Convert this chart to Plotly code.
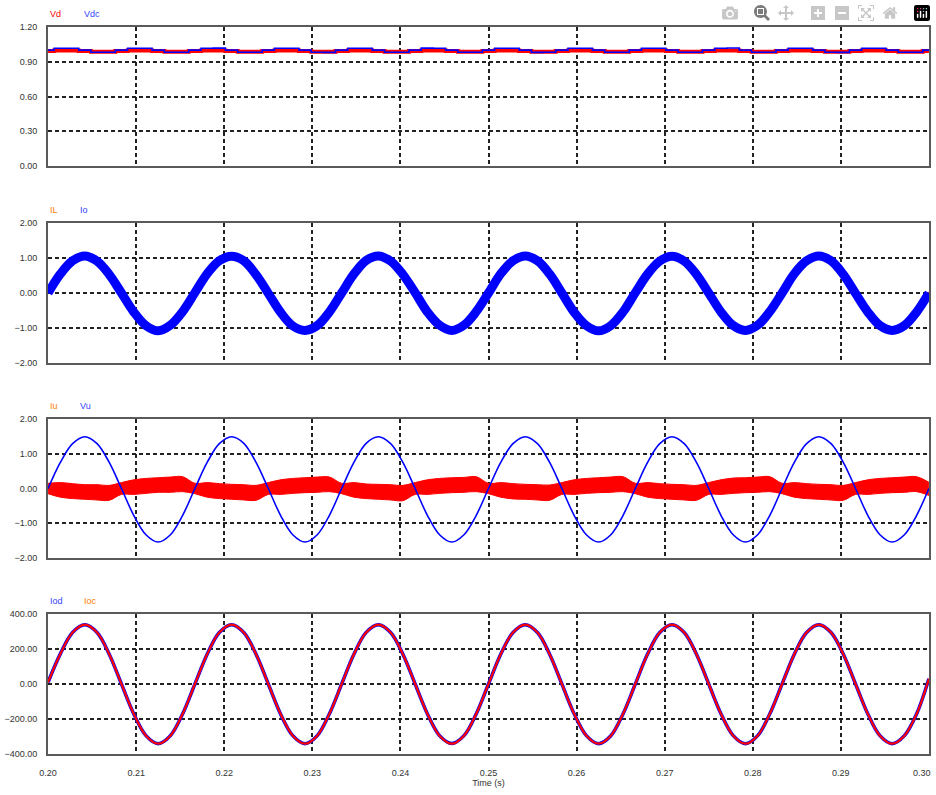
import plotly.graph_objects as go

# ---------------- data ----------------
time_s = [
    0.20000, 0.20139, 0.20278, 0.20417, 0.20556, 0.20694, 0.20833, 0.20972, 0.21111, 0.21250, 0.21389, 0.21528,
    0.21667, 0.21806, 0.21944, 0.22083, 0.22222, 0.22361, 0.22500, 0.22639, 0.22778, 0.22917, 0.23056, 0.23194,
    0.23333, 0.23472, 0.23611, 0.23750, 0.23889, 0.24028, 0.24167, 0.24306, 0.24444, 0.24583, 0.24722, 0.24861,
    0.25000, 0.25139, 0.25278, 0.25417, 0.25556, 0.25694, 0.25833, 0.25972, 0.26111, 0.26250, 0.26389, 0.26528,
    0.26667, 0.26806, 0.26944, 0.27083, 0.27222, 0.27361, 0.27500, 0.27639, 0.27778, 0.27917, 0.28056, 0.28194,
    0.28333, 0.28472, 0.28611, 0.28750, 0.28889, 0.29028, 0.29167, 0.29306, 0.29444, 0.29583, 0.29722, 0.29861,
    0.30000,
]

vd = [
    0.992, 0.997, 0.997, 0.992, 0.987, 0.987, 0.992, 0.997, 0.997, 0.992, 0.987, 0.987,
    0.992, 0.997, 0.998, 0.992, 0.987, 0.987, 0.992, 0.997, 0.997, 0.992, 0.987, 0.986,
    0.992, 0.997, 0.997, 0.992, 0.987, 0.987, 0.992, 0.998, 0.997, 0.992, 0.987, 0.987,
    0.992, 0.997, 0.997, 0.992, 0.986, 0.987, 0.992, 0.997, 0.997, 0.992, 0.987, 0.987,
    0.992, 0.997, 0.997, 0.992, 0.987, 0.987, 0.992, 0.997, 0.998, 0.992, 0.987, 0.987,
    0.992, 0.997, 0.997, 0.992, 0.987, 0.986, 0.992, 0.997, 0.997, 0.992, 0.987, 0.987,
    0.992,
]
vdc = [
    1.000, 1.017, 1.017, 1.000, 0.982, 0.982, 1.000, 1.017, 1.017, 1.000, 0.982, 0.982,
    1.000, 1.017, 1.018, 1.000, 0.982, 0.982, 1.000, 1.017, 1.017, 1.000, 0.982, 0.981,
    1.000, 1.017, 1.017, 1.000, 0.982, 0.982, 1.000, 1.018, 1.017, 1.000, 0.982, 0.982,
    1.000, 1.017, 1.017, 1.000, 0.981, 0.982, 1.000, 1.017, 1.017, 1.000, 0.982, 0.982,
    1.000, 1.017, 1.017, 1.000, 0.982, 0.982, 1.000, 1.017, 1.019, 1.000, 0.982, 0.982,
    1.000, 1.017, 1.017, 1.000, 0.982, 0.981, 1.000, 1.017, 1.017, 1.000, 0.982, 0.982,
    1.000,
]

io = [
    0.00, 0.54, 0.92, 1.06, 0.91, 0.53, 0.00, -0.54, -0.93, -1.08, -0.92, -0.53,
    0.01, 0.55, 0.92, 1.05, 0.92, 0.52, -0.01, -0.55, -0.94, -1.07, -0.93, -0.54,
    0.00, 0.54, 0.93, 1.06, 0.91, 0.53, 0.01, -0.54, -0.92, -1.07, -0.92, -0.53,
    0.00, 0.55, 0.92, 1.06, 0.92, 0.54, 0.00, -0.55, -0.93, -1.08, -0.93, -0.54,
    0.01, 0.54, 0.91, 1.05, 0.91, 0.53, 0.00, -0.54, -0.93, -1.07, -0.92, -0.53,
    0.00, 0.55, 0.92, 1.06, 0.92, 0.53, -0.01, -0.54, -0.93, -1.07, -0.93, -0.54,
    0.00,
]
il = [
    0.02, 0.52, 0.90, 1.03, 0.88, 0.49, -0.03, -0.56, -0.91, -1.04, -0.89, -0.50,
    0.03, 0.53, 0.90, 1.03, 0.89, 0.49, -0.03, -0.56, -0.92, -1.04, -0.90, -0.51,
    0.02, 0.52, 0.91, 1.03, 0.88, 0.50, -0.02, -0.56, -0.90, -1.04, -0.89, -0.50,
    0.02, 0.53, 0.90, 1.03, 0.89, 0.50, -0.03, -0.57, -0.91, -1.05, -0.90, -0.51,
    0.03, 0.52, 0.89, 1.02, 0.88, 0.50, -0.02, -0.56, -0.91, -1.04, -0.89, -0.50,
    0.02, 0.53, 0.90, 1.03, 0.89, 0.50, -0.03, -0.56, -0.91, -1.04, -0.90, -0.51,
    0.02,
]

vu = [
    0.00, 0.75, 1.29, 1.49, 1.29, 0.75, 0.00, -0.77, -1.33, -1.54, -1.33, -0.77,
    0.00, 0.75, 1.29, 1.49, 1.30, 0.75, 0.00, -0.77, -1.33, -1.54, -1.33, -0.77,
    0.00, 0.75, 1.30, 1.49, 1.29, 0.75, 0.00, -0.77, -1.33, -1.54, -1.33, -0.77,
    0.00, 0.75, 1.29, 1.49, 1.29, 0.75, 0.00, -0.77, -1.33, -1.54, -1.33, -0.77,
    0.00, 0.75, 1.29, 1.49, 1.29, 0.75, 0.00, -0.77, -1.33, -1.54, -1.33, -0.77,
    0.00, 0.75, 1.29, 1.49, 1.29, 0.75, 0.00, -0.77, -1.33, -1.54, -1.33, -0.77,
    0.00,
]
iu_hi = [
    0.15, 0.17, 0.14, 0.11, 0.11, 0.09, 0.17, 0.25, 0.29, 0.31, 0.33, 0.34,
    0.15, 0.17, 0.14, 0.12, 0.11, 0.09, 0.17, 0.25, 0.29, 0.31, 0.33, 0.33,
    0.15, 0.17, 0.13, 0.12, 0.11, 0.09, 0.17, 0.25, 0.29, 0.31, 0.32, 0.34,
    0.15, 0.17, 0.14, 0.12, 0.11, 0.10, 0.17, 0.25, 0.29, 0.31, 0.33, 0.34,
    0.15, 0.17, 0.14, 0.12, 0.11, 0.09, 0.17, 0.25, 0.30, 0.31, 0.33, 0.34,
    0.15, 0.17, 0.14, 0.12, 0.11, 0.09, 0.17, 0.25, 0.29, 0.31, 0.33, 0.34,
    0.18,
]
iu_lo = [
    -0.15, -0.25, -0.29, -0.31, -0.33, -0.34, -0.17, -0.17, -0.14, -0.11, -0.11, -0.09,
    -0.15, -0.25, -0.29, -0.31, -0.33, -0.34, -0.17, -0.17, -0.14, -0.12, -0.11, -0.09,
    -0.15, -0.25, -0.29, -0.31, -0.33, -0.35, -0.17, -0.17, -0.14, -0.12, -0.11, -0.09,
    -0.15, -0.25, -0.30, -0.31, -0.33, -0.34, -0.17, -0.17, -0.14, -0.12, -0.11, -0.09,
    -0.15, -0.25, -0.29, -0.31, -0.33, -0.34, -0.17, -0.17, -0.14, -0.12, -0.11, -0.09,
    -0.15, -0.25, -0.29, -0.31, -0.33, -0.34, -0.17, -0.17, -0.14, -0.12, -0.11, -0.09,
    -0.20,
]

iod = [
    10, 172, 294, 338, 294, 170, 0, -170, -295, -341, -295, -170,
    0, 170, 294, 339, 294, 170, 0, -171, -295, -341, -295, -170,
    0, 170, 295, 339, 294, 170, 0, -170, -295, -340, -295, -170,
    0, 170, 294, 339, 294, 170, 0, -170, -295, -341, -296, -170,
    0, 171, 294, 339, 294, 170, 0, -170, -295, -341, -295, -170,
    0, 170, 294, 339, 294, 170, 0, -170, -295, -341, -295, -170,
    30,
]
ioc = [
    10, 171, 294, 339, 294, 170, 0, -170, -295, -341, -295, -170,
    0, 170, 294, 339, 294, 170, 0, -170, -295, -341, -295, -170,
    0, 170, 294, 339, 294, 170, 0, -170, -295, -341, -295, -170,
    0, 170, 294, 339, 294, 170, 0, -170, -295, -341, -295, -170,
    0, 170, 294, 339, 294, 170, 0, -170, -295, -341, -295, -170,
    0, 170, 294, 339, 294, 170, 0, -170, -295, -341, -295, -170,
    30,
]

x_ticks = [0.20, 0.21, 0.22, 0.23, 0.24, 0.25, 0.26, 0.27, 0.28, 0.29, 0.30]
x_tick_text = ["0.20", "0.21", "0.22", "0.23", "0.24", "0.25", "0.26", "0.27", "0.28", "0.29", ""]
last_tick_text = "0.30"

# ---------------- styling ----------------
RED = "#FF0000"
BLUE = "#0000FF"
ORANGE = "#FF8000"
LBLUE = "#3344FF"
FONT = "Liberation Sans, Arial, sans-serif"
FS = 9

fig = go.Figure()

# panel 1
fig.add_trace(go.Scatter(x=time_s, y=vd, mode="lines", line=dict(color=RED, width=4, shape="hvh"),
                         xaxis="x", yaxis="y", name="Vd"))
fig.add_trace(go.Scatter(x=time_s, y=vdc, mode="lines", line=dict(color=BLUE, width=1.6, shape="hvh"),
                         xaxis="x", yaxis="y", name="Vdc"))
# panel 2
fig.add_trace(go.Scatter(x=time_s, y=il, mode="lines", line=dict(color=RED, width=2, shape="spline"),
                         xaxis="x2", yaxis="y2", name="IL"))
fig.add_trace(go.Scatter(x=time_s, y=io, mode="lines", line=dict(color=BLUE, width=9, shape="spline"),
                         xaxis="x2", yaxis="y2", name="Io"))
# panel 3
fig.add_trace(go.Scatter(x=time_s, y=iu_lo, mode="lines", line=dict(color=RED, width=1, shape="spline"),
                         xaxis="x3", yaxis="y3", name="Iu_lo"))
fig.add_trace(go.Scatter(x=time_s, y=iu_hi, mode="lines", line=dict(color=RED, width=1, shape="spline"),
                         fill="tonexty", fillcolor=RED, xaxis="x3", yaxis="y3", name="Iu"))
fig.add_trace(go.Scatter(x=time_s, y=vu, mode="lines", line=dict(color=BLUE, width=1.6, shape="spline"),
                         xaxis="x3", yaxis="y3", name="Vu"))
# panel 4
fig.add_trace(go.Scatter(x=time_s, y=iod, mode="lines", line=dict(color=BLUE, width=3.5, shape="spline"),
                         xaxis="x4", yaxis="y4", name="Iod"))
fig.add_trace(go.Scatter(x=time_s, y=ioc, mode="lines", line=dict(color=RED, width=2.2, shape="spline"),
                         xaxis="x4", yaxis="y4", name="Ioc"))

grid_common = dict(
    showgrid=True, gridcolor="#222222", gridwidth=1.6, griddash="4px,3px",
    showline=True, mirror=True, linecolor="#5a5a5a", linewidth=2, automargin=False,
    zeroline=False, ticks="", tickfont=dict(family=FONT, size=FS, color="#333333"),
)

def xax(show_labels):
    d = dict(grid_common)
    d.update(range=[0.19999, 0.30001], tickmode="array", tickvals=x_ticks, ticktext=x_tick_text,
             showticklabels=show_labels)
    return d

def yax(domain, rng, dtick, anchor):
    d = dict(grid_common)
    d.update(domain=domain, range=rng, dtick=dtick, tick0=0, tickformat=".2f",
             anchor=anchor, ticklabelstandoff=7)
    return d

H = 727.0
def dom(top_px, bot_px):
    return [(754 - bot_px) / H, (754 - top_px) / H]

fig.update_layout(
    width=936, height=795,
    margin=dict(l=48, r=7, t=27, b=41, autoexpand=False),
    paper_bgcolor="white", plot_bgcolor="white",
    showlegend=False,
    font=dict(family=FONT, size=FS, color="#333333"),
    xaxis=dict(xax(False), anchor="y"),
    xaxis2=dict(xax(False), anchor="y2", matches="x"),
    xaxis3=dict(xax(False), anchor="y3", matches="x"),
    xaxis4=dict(xax(True), anchor="y4", matches="x", ticklabelstandoff=9,
                title=dict(text="Time (s)", standoff=0, font=dict(family=FONT, size=FS, color="#333333"))),
    yaxis=yax(dom(27, 166), [0, 1.2], 0.3, "x"),
    yaxis2=yax(dom(223, 363), [-2, 2], 1, "x2"),
    yaxis3=yax(dom(419, 558), [-2, 2], 1, "x3"),
    yaxis4=yax(dom(614, 754), [-400, 400], 200, "x4"),
)

def px_x(p):
    return (p - 48) / 881.0

def px_y(p):
    return (754 - p) / H

labels = [
    ("Vd", 48, 14, RED), ("Vdc", 82, 14, LBLUE),
    ("IL", 48, 210, ORANGE), ("Io", 78, 210, LBLUE),
    ("Iu", 48, 406, ORANGE), ("Vu", 78, 406, LBLUE),
    ("Iod", 48, 601, LBLUE), ("Ioc", 82, 601, ORANGE),
]
for txt, xp, yp, col in labels:
    fig.add_annotation(text=txt, xref="paper", yref="paper", x=px_x(xp), y=px_y(yp),
                       xanchor="left", yanchor="middle", showarrow=False,
                       font=dict(family=FONT, size=FS, color=col))

# last x tick label, pulled inside the page edge as in the reference
fig.add_annotation(text=last_tick_text, xref="paper", yref="paper", x=px_x(933), y=px_y(773),
                   xanchor="right", yanchor="middle", showarrow=False,
                   font=dict(family=FONT, size=FS, color="#333333"))

fig.write_html(
    "out.html",
    post_script="document.body.style.margin='0';document.body.style.overflow='hidden';",
)
